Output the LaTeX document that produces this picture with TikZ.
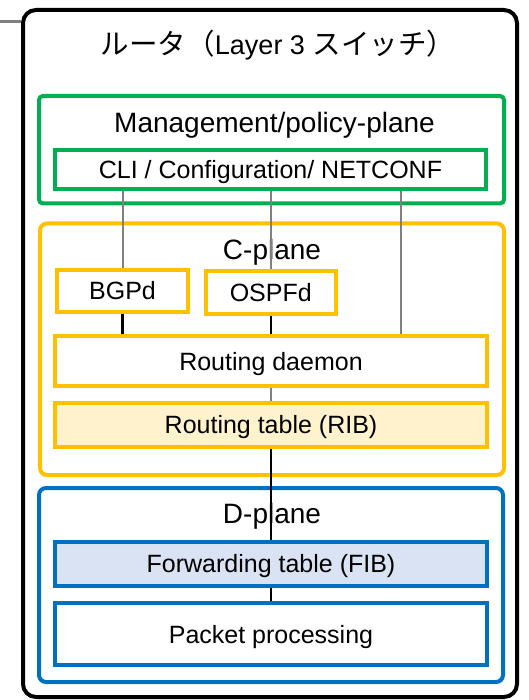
\documentclass[tikz,border=0pt]{standalone}
\usepackage{fontspec}
\setmainfont{Liberation Sans}
\newfontfamily\cjk{Noto Sans CJK JP}
\definecolor{mgmtgreen}{HTML}{00B050}
\definecolor{cyellow}{HTML}{FFC000}
\definecolor{dblue}{HTML}{0070C0}
\definecolor{ribfill}{HTML}{FFF2CC}
\definecolor{fibfill}{HTML}{DAE3F3}
\definecolor{linkgray}{HTML}{808080}
\begin{document}
\begin{tikzpicture}[x=1pt,y=-1pt,
  box/.style={draw, line width=4pt, inner sep=0pt, fill=white,
    font=\fontsize{25}{25}\selectfont, text height=18pt, text depth=0pt},
  plane/.style={draw, line width=4pt, inner sep=0pt},
  planelabel/.style={anchor=base, inner sep=0pt, font=\fontsize{28}{28}\selectfont},
  graylink/.style={draw=linkgray, line width=2pt},
  blacklink/.style={draw=black, line width=2.5pt}]
\useasboundingbox (0,0) rectangle (529,700);

% outer router frame and its incoming line
\coordinate (stub) at (0,21.5);
\node[plane, draw=black, rounded corners=13pt, minimum width=494pt, minimum height=687pt] (router) at (270,353.5) {};
\draw[graylink, line width=3.5pt] (stub) -- (stub -| router.west);
\node[anchor=base, inner sep=0pt, font=\fontsize{27}{27}\selectfont] (title) at (278,55)
  {{\cjk\fontsize{28.5}{28.5}\selectfont ルータ（}Layer 3 {\cjk\fontsize{28.5}{28.5}\selectfont スイッチ）}};

% management plane
\node[plane, draw=mgmtgreen, rounded corners=4pt, minimum width=465pt, minimum height=107.5pt] (mgmt) at (271.5,149.75) {};
\node[planelabel] (mgmtlabel) at (274.5,133) {Management/policy-plane};
\node[box, draw=mgmtgreen, minimum width=431pt, minimum height=39.5pt] (cli) at (270.5,169.75) {CLI / Configuration/ NETCONF};

% control plane
\node[plane, draw=cyellow, rounded corners=7pt, minimum width=464pt, minimum height=251.5pt] (cplane) at (272,349.25) {};
\node[planelabel] (clabel) at (272,259) {C-plane};
\node[box, draw=cyellow, minimum width=131pt, minimum height=42pt] (bgp) at (122.5,290.5) {BGPd};
\node[box, draw=cyellow, minimum width=130.5pt, minimum height=43pt] (ospf) at (270.75,292) {OSPFd};
\node[box, draw=cyellow, minimum width=432pt, minimum height=50pt] (rd) at (271,361) {Routing daemon};
\node[box, draw=cyellow, fill=ribfill, minimum width=432pt, minimum height=43.5pt] (rib) at (271,424.75) {Routing table (RIB)};

% data plane
\node[plane, draw=dblue, rounded corners=7pt, minimum width=464pt, minimum height=194pt] (dplane) at (271,585) {};
\node[planelabel] (dlabel) at (272,523) {D-plane};
\node[box, draw=dblue, fill=fibfill, minimum width=432pt, minimum height=44pt] (fib) at (271,563.5) {Forwarding table (FIB)};
\node[box, draw=dblue, minimum width=432pt, minimum height=62pt] (pkt) at (271,634) {Packet processing};

% connectors
\coordinate (tap) at (401,0);
\draw[graylink] (cli.south -| bgp.north) -- (bgp.north);
\draw[graylink] (cli.south -| ospf.north) -- (ospf.north);
\draw[graylink] (cli.south -| tap) -- (rd.north -| tap);
\draw[blacklink] (bgp.south) -- (rd.north -| bgp.south);
\draw[blacklink] (ospf.south) -- (rd.north -| ospf.south);
\draw[graylink] (rd.south) -- (rib.north);
\draw[blacklink] (rib.south) -- (fib.north);
\draw[blacklink] (fib.south) -- (pkt.north);
\end{tikzpicture}
\end{document}
